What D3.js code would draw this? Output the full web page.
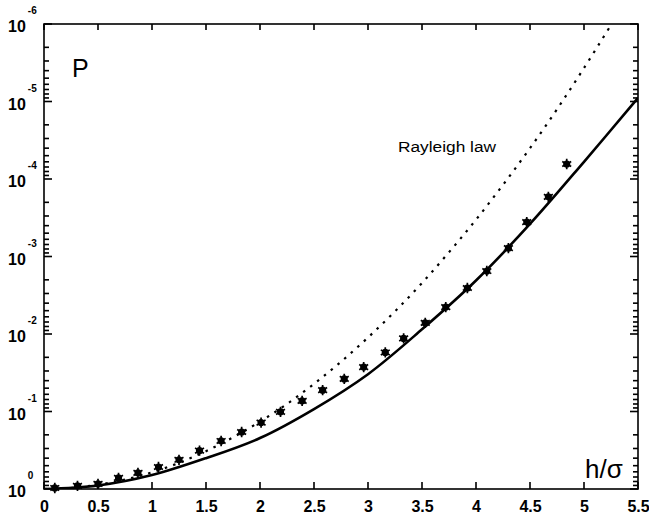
<!DOCTYPE html>
<html>
<head>
<meta charset="utf-8">
<script src="https://cdn.jsdelivr.net/npm/d3@7"></script>
<style>
    body { margin: 0; background: #fff; }
    svg { display: block; }
    .axis text { font-family: "Liberation Sans", Arial, sans-serif; font-weight: bold; font-size: 16px; fill: #000; }
</style>
</head>
<body>
<svg id="chart" width="649" height="518"></svg>
<script>
// measured points (asterisks)
var markerH = [0.10, 0.31, 0.50, 0.69, 0.87, 1.06, 1.25, 1.44, 1.64, 1.83, 2.01, 2.19, 2.39,
    2.58, 2.78, 2.96, 3.16, 3.33, 3.53, 3.72, 3.92, 4.10, 4.30, 4.47, 4.67, 4.84];
var markerP = [0.97, 0.91, 0.86, 0.72, 0.62, 0.52, 0.42, 0.32, 0.24, 0.184, 0.139, 0.101, 0.073,
    0.053, 0.038, 0.0267, 0.0173, 0.0114, 0.0072, 0.0045, 0.00255, 0.00154, 7.8e-4, 3.6e-4, 1.7e-4, 6.4e-5];

// solid curve
var solidH = [0, 0.5, 1.0, 1.5, 2.0, 2.5, 3.0, 3.5, 4.0, 4.5, 5.0, 5.5];
var solidP = [1, 0.90, 0.66, 0.40, 0.22, 0.093, 0.033, 0.0087, 0.00204, 3.8e-4, 6.0e-5, 9.0e-6];

// dotted curve (Rayleigh law)
var rayleighH = [0, 0.25, 0.5, 0.75, 1.0, 1.25, 1.5, 1.75, 2.0, 2.25, 2.5, 2.75, 3.0, 3.25,
    3.5, 3.75, 4.0, 4.25, 4.5, 4.75, 5.0, 5.25];
var rayleighP = [1, 0.97, 0.88, 0.755, 0.61, 0.46, 0.325, 0.216, 0.135, 0.080, 0.044, 0.0228, 0.0111, 0.0051,
    0.0022, 8.8e-4, 3.35e-4, 1.19e-4, 4.0e-5, 1.26e-5, 3.7e-6, 1.03e-6];

var xTicks = [0, 0.5, 1, 1.5, 2, 2.5, 3, 3.5, 4, 4.5, 5, 5.5];
var xTickLabels = ["0", "0.5", "1", "1.5", "2", "2.5", "3", "3.5", "4", "4.5", "5", "5.5"];
var yExponents = [0, -1, -2, -3, -4, -5, -6];

var svg = d3.select("#chart");

var margin = { top: 24, right: 11, bottom: 29, left: 44 },
    width = +svg.attr("width") - margin.left - margin.right,
    height = +svg.attr("height") - margin.top - margin.bottom;

var x = d3.scaleLinear().domain([0, 5.5]).range([0, width]),
    y = d3.scaleLog().domain([1, 1e-6]).range([height, 0]);

var majorY = yExponents.map(function(e) { return Math.pow(10, e); });
var minorY = [];
yExponents.slice(0, -1).forEach(function(e) {
    for (var k = 2; k <= 9; k++) minorY.push(k * Math.pow(10, e - 1));
});

var g = svg.append("g")
    .attr("transform", "translate(" + margin.left + "," + margin.top + ")");

// frame
g.append("rect")
    .attr("width", width)
    .attr("height", height)
    .attr("fill", "none")
    .attr("stroke", "#000")
    .attr("stroke-width", 1.6);

// inward ticks as small filled rects
var tk = g.append("g").attr("class", "ticks").attr("fill", "#000");

tk.selectAll(".xb")
    .data(xTicks)
    .enter().append("rect")
    .attr("x", function(d) { return x(d) - 0.8; })
    .attr("y", height - 7)
    .attr("width", 1.6)
    .attr("height", 7);

tk.selectAll(".xt")
    .data(xTicks)
    .enter().append("rect")
    .attr("x", function(d) { return x(d) - 0.8; })
    .attr("y", 0)
    .attr("width", 1.6)
    .attr("height", 6);

var yTickData = majorY.map(function(v) { return { v: v, len: 8 }; })
    .concat(minorY.map(function(v) { return { v: v, len: 5 }; }));

tk.selectAll(".yl")
    .data(yTickData)
    .enter().append("rect")
    .attr("x", 0)
    .attr("y", function(d) { return y(d.v) - 0.8; })
    .attr("width", function(d) { return d.len; })
    .attr("height", 1.6);

tk.selectAll(".yr")
    .data(yTickData)
    .enter().append("rect")
    .attr("x", function(d) { return width - d.len; })
    .attr("y", function(d) { return y(d.v) - 0.8; })
    .attr("width", function(d) { return d.len; })
    .attr("height", 1.6);

// bottom labels
g.append("g")
    .attr("class", "axis axis--x")
    .attr("transform", "translate(0," + height + ")")
    .call(d3.axisBottom(x).tickValues(xTicks).tickSize(0).tickPadding(12)
        .tickFormat(function(d, i) { return xTickLabels[i]; }))
    .call(function(s) { s.select(".domain").remove(); });

// y labels 10^n
var yl = svg.append("g").attr("class", "axis");
yExponents.forEach(function(e) {
    var t = yl.append("text")
        .attr("x", 8)
        .attr("y", margin.top + y(Math.pow(10, e)) + 8);
    t.append("tspan").text("10");
    t.append("tspan")
        .attr("dx", 2)
        .attr("dy", -18)
        .style("font-size", "10px")
        .text(e === 0 ? "0" : "-" + (-e));
});

g.append("clipPath").attr("id", "clip")
    .append("rect").attr("width", width).attr("height", height);

var line = d3.line()
    .x(function(d) { return x(d[0]); })
    .y(function(d) { return y(d[1]); })
    .curve(d3.curveCatmullRom);

g.append("path")
    .datum(d3.zip(rayleighH, rayleighP))
    .attr("clip-path", "url(#clip)")
    .attr("d", line)
    .attr("fill", "none")
    .attr("stroke", "#000")
    .attr("stroke-width", 2.2)
    .attr("stroke-dasharray", "2.5,6.3");

g.append("path")
    .datum(d3.zip(solidH, solidP))
    .attr("clip-path", "url(#clip)")
    .attr("d", line)
    .attr("fill", "none")
    .attr("stroke", "#000")
    .attr("stroke-width", 2.6);

var star = g.selectAll(".marker")
    .data(d3.zip(markerH, markerP))
    .enter().append("g")
    .attr("class", "marker")
    .attr("transform", function(d) {
        return "translate(" + x(d[0]) + "," + y(d[1]) + ")";
    });
star.append("circle").attr("r", 3.6).attr("fill", "#000");
star.append("path")
    .attr("d", d3.symbol().type(d3.symbolAsterisk).size(75))
    .attr("stroke", "#000")
    .attr("stroke-width", 1.7)
    .attr("fill", "none");

// labels
svg.append("text")
    .attr("x", 72).attr("y", 77)
    .style("font-family", "Liberation Sans, Arial, sans-serif")
    .style("font-size", "25px")
    .text("P");

svg.append("text")
    .attr("x", 398).attr("y", 152)
    .attr("textLength", 98)
    .attr("lengthAdjust", "spacingAndGlyphs")
    .style("font-family", "Liberation Sans, Arial, sans-serif")
    .style("font-size", "14px")
    .text("Rayleigh law");

svg.append("text")
    .attr("x", 585).attr("y", 478)
    .style("font-family", "Liberation Sans, Arial, sans-serif")
    .style("font-size", "26px")
    .text("h/σ");
</script>
</body>
</html>
